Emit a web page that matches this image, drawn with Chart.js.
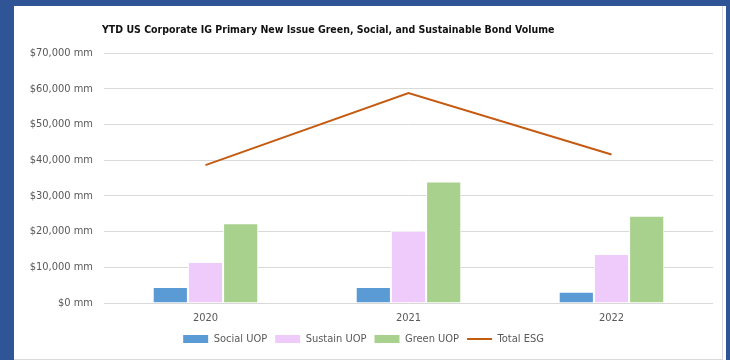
<!DOCTYPE html>
<html>
<head>
<meta charset="utf-8">
<script src="https://cdn.jsdelivr.net/npm/chart.js@4.4.0/dist/chart.umd.min.js"></script>
<style>
  html, body { margin: 0; padding: 0; background: #2f5597; width: 730px; height: 360px; overflow: hidden; }
  .frame { position: absolute; left: 14px; top: 6px; width: 712px; height: 354px; background: #fff; }
  .inner { position: absolute; left: 0; top: 0; width: 708px; height: 353px; border-right: 1px solid #dadada; border-bottom: 1px solid #dadada; }
  canvas { display: block; }
</style>
</head>
<body>
<div class="frame">
  <div class="inner"><canvas id="myChart" width="708" height="353"></canvas></div>
</div>
<script>
const years = ["2020", "2021", "2022"];
const socialUOP = [4500, 4500, 3150];
const sustainUOP = [11500, 20200, 13750];
const greenUOP = [22300, 34000, 24400];
const totalESG = [38600, 58800, 41600];
const yTicks = [0, 10000, 20000, 30000, 40000, 50000, 60000, 70000];
const chartTitle = "YTD US Corporate IG Primary New Issue Green, Social, and Sustainable Bond Volume";

const labelFont = "'Liberation Sans Narrow', 'DejaVu Sans Condensed', sans-serif";
const gray = "#595959";

// title sits flush with the plot's left edge, so draw it by hand
const titlePlugin = {
  id: "leftTitle",
  afterDraw(chart) {
    const c = chart.ctx;
    c.save();
    c.font = "bold 10.5px " + labelFont;
    c.fillStyle = "#111";
    c.textBaseline = "middle";
    c.textAlign = "left";
    c.fillText(chartTitle, chart.chartArea.left - 2, 24);
    c.restore();
  },
};

const ctx = document.getElementById("myChart");

new Chart(ctx, {
  data: {
    labels: years,
    datasets: [
      { type: "bar", label: "Social UOP", data: socialUOP, backgroundColor: "#5b9bd5", borderColor: "#ffffff", borderWidth: 1, order: 2 },
      { type: "bar", label: "Sustain UOP", data: sustainUOP, backgroundColor: "#eecbfb", borderColor: "#ffffff", borderWidth: 1, order: 2 },
      { type: "bar", label: "Green UOP", data: greenUOP, backgroundColor: "#a9d18e", borderColor: "#ffffff", borderWidth: 1, order: 2 },
      { type: "line", label: "Total ESG", data: totalESG, borderColor: "#c55a11", backgroundColor: "#c55a11", borderWidth: 2, pointRadius: 0, tension: 0, order: 1 },
    ],
  },
  plugins: [titlePlugin],
  options: {
    responsive: false,
    animation: false,
    layout: { padding: { top: 47, right: 9, left: 0, bottom: 4.5 } },
    datasets: {
      bar: { categoryPercentage: 0.52, barPercentage: 1 },
    },
    scales: {
      x: {
        afterFit: (axis) => { axis.height = 22.5; },
        grid: { display: false, drawTicks: false },
        border: { display: false },
        ticks: { color: gray, padding: 9, font: { family: labelFont, size: 11 } },
      },
      y: {
        min: 0,
        max: 70000,
        afterBuildTicks: (axis) => { axis.ticks = yTicks.map((v) => ({ value: v })); },
        afterFit: (axis) => { axis.width = 90; },
        grid: { color: "#d9d9d9", lineWidth: 1, drawTicks: false },
        border: { display: false },
        ticks: {
          color: gray,
          padding: 11,
          font: { family: labelFont, size: 11 },
          callback: (v) => "$" + v.toLocaleString("en-US") + " mm",
        },
      },
    },
    plugins: {
      tooltip: { enabled: false },
      legend: {
        position: "bottom",
        labels: {
          color: gray,
          font: { family: labelFont, size: 11 },
          usePointStyle: true,
          pointStyleWidth: 25,
          boxHeight: 8,
          padding: 8,
          generateLabels: (chart) =>
            chart.data.datasets.map((ds, i) => ({
              text: ds.label,
              fillStyle: ds.backgroundColor,
              strokeStyle: ds.type === "line" ? ds.borderColor : ds.backgroundColor,
              lineWidth: ds.type === "line" ? 2 : 0,
              pointStyle: ds.type === "line" ? "line" : "rect",
              fontColor: gray,
              hidden: false,
              datasetIndex: i,
            })),
        },
      },
    },
  },
});
</script>
</body>
</html>
